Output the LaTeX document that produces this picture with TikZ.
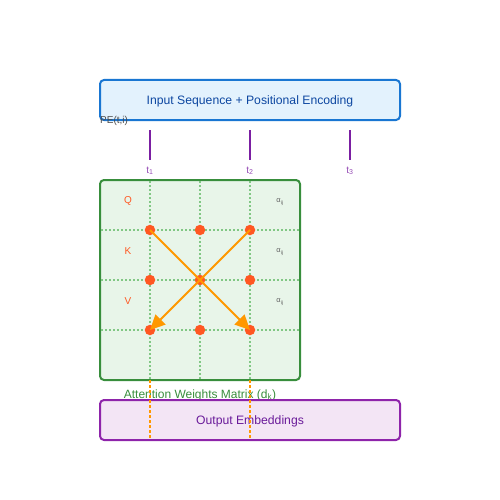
\documentclass[tikz,border=0pt]{standalone}
\usepackage{fontspec}
\setmainfont{Liberation Sans}
\usetikzlibrary{arrows.meta}
\definecolor{inblue}{HTML}{1976D2}
\definecolor{infill}{HTML}{E3F2FD}
\definecolor{intext}{HTML}{0D47A1}
\definecolor{mgreen}{HTML}{388E3C}
\definecolor{mfill}{HTML}{E8F5E9}
\definecolor{gridg}{HTML}{81C784}
\definecolor{dotc}{HTML}{FF5722}
\definecolor{arrc}{HTML}{FF9800}
\definecolor{purp}{HTML}{7B1FA2}
\definecolor{outst}{HTML}{8E24AA}
\definecolor{outfill}{HTML}{F3E5F5}
\definecolor{outtext}{HTML}{6A1B9A}
\tikzset{
  boxstyle/.style={rounded corners=4pt, line width=2pt},
  gridline/.style={gridg, line width=1.2pt, dash pattern=on 1.5pt off 2.5pt},
  dotnode/.style={circle, fill=dotc, inner sep=0pt, minimum size=10.5pt},
  attarrow/.style={arrc, line width=2pt, -{Triangle[length=15pt,width=14pt]}},
  tick/.style={purp, line width=2pt},
  tlabel/.style={text=purp!80, font=\fontsize{10}{11}\selectfont},
  qkv/.style={text=dotc, font=\fontsize{10}{12}\selectfont},
  alab/.style={text=black!60, font=\fontsize{7.5}{8}\selectfont},
  outdash/.style={arrc, line width=2pt, dash pattern=on 3pt off 2pt},
}
\begin{document}
\begin{tikzpicture}[x=1pt,y=-1pt]
\useasboundingbox (0,0) rectangle (500,500);
% input box
\draw[boxstyle, draw=inblue, fill=infill] (100,80) rectangle (400,120);
\node (intitle) at (250,101) {\fontsize{12.2}{14}\selectfont\color{intext}Input Sequence + Positional Encoding};
\node[anchor=west, inner sep=0pt, text=black!70, font=\fontsize{10}{12}\selectfont] (pe) at (100,121) {PE(t,i)};
% ticks
\foreach \x/\n in {150/1,250/2,350/3}{
  \coordinate (ta\n) at (\x,130);
  \coordinate (tb\n) at (\x,160);
  \draw[tick] (ta\n) -- (tb\n);
  \node[tlabel] (tl\n) at (\x,171) {t\textsubscript{\n}};
}
% matrix
\draw[boxstyle, draw=mgreen, fill=mfill] (100,180) rectangle (300,380);
\foreach \x in {150,200,250}{
  \coordinate (gv\x a) at (\x,181);
  \coordinate (gv\x b) at (\x,379);
  \draw[gridline] (gv\x a) -- (gv\x b);
}
\foreach \y in {230,280,330}{
  \coordinate (gh\y a) at (101,\y);
  \coordinate (gh\y b) at (299,\y);
  \draw[gridline] (gh\y a) -- (gh\y b);
}
\node[qkv] (Q) at (128,201) {Q};
\node[qkv] (K) at (128,251) {K};
\node[qkv] (V) at (128,301) {V};
\node[alab] (a1) at (280,202) {α\textsubscript{ij}};
\node[alab] (a2) at (280,252) {α\textsubscript{ij}};
\node[alab] (a3) at (280,302) {α\textsubscript{ij}};
\foreach \x/\i in {150/1,200/2,250/3}{
  \foreach \y/\j in {230/1,280/2,330/3}{
    \node[dotnode] (d\j\i) at (\x,\y) {};
  }
}
\draw[attarrow] (d11.center) -- (d33.center);
\draw[attarrow] (d13.center) -- (d31.center);
% label
\node[text=mgreen, font=\fontsize{12}{14}\selectfont] (mlabel) at (200,395) {Attention Weights Matrix (d\textsubscript{k})};
% output box
\draw[boxstyle, draw=outst, fill=outfill] (100,400) rectangle (400,440);
\node (outtitle) at (250,421) {\fontsize{12.2}{14}\selectfont\color{outtext}Output Embeddings};
% dashed
\coordinate (o1a) at (150,380); \coordinate (o1b) at (150,438);
\coordinate (o2a) at (250,380); \coordinate (o2b) at (250,438);
\draw[outdash] (o1a) -- (o1b);
\draw[outdash] (o2a) -- (o2b);
\end{tikzpicture}
\end{document}
